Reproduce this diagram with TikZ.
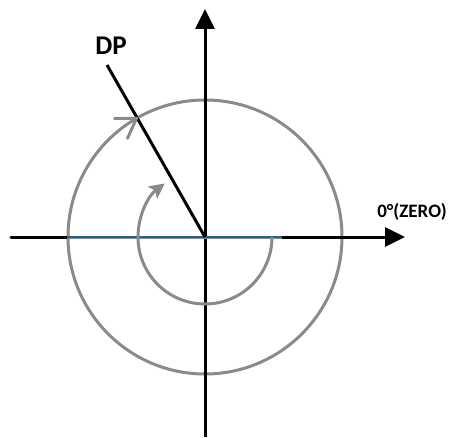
\documentclass[tikz,border=0pt]{standalone}
\usepackage{fontspec}
\setmainfont{Carlito}[BoldFont={Carlito Bold}]
\usetikzlibrary{arrows.meta,calc}
\definecolor{arcgray}{RGB}{138,138,138}
\definecolor{lineblue}{RGB}{30,100,140}
\tikzset{
  axis/.style={line width=3pt,black,-{Triangle[length=20pt,width=19pt]}},
  grayline/.style={line width=3pt,arcgray},
  lbl/.style={inner sep=0pt}
}
\begin{document}
\begin{tikzpicture}[x=1pt,y=1pt]
\useasboundingbox (0,0) rectangle (455,437);
\coordinate (O) at (205,200);
\coordinate (L) at (11,200);
\coordinate (R) at (405,200);
\coordinate (Bot) at (205,0);
\coordinate (Top) at (205,428);
\coordinate (DPend) at (107,372);
\coordinate (P) at ($(O)+(120:137)$);
% big circle
\draw[grayline] (O) circle[radius=137];
% axes
\draw[axis,line cap=round] (L) -- (R);
\draw[axis] (Bot) -- (Top);
% gray/blue overlay on horizontal axis
\coordinate (HL) at (67,200);
\coordinate (HR) at (282,200);
\draw[line width=3pt,arcgray] (HL) -- (HR);
\draw[line width=1.2pt,lineblue] (HL) -- (HR);
% small arc
\draw[grayline,-{Stealth[length=15pt,width=15pt,inset=3pt]}] ($(O)+(0:67)$) arc[start angle=0,end angle=-233,radius=67];
% DP line
\draw[line width=3pt,black] (O) -- (DPend);
% chevron on big circle
\draw[grayline,line cap=round,line join=miter] ($(P)+(-22,0)$) -- (P) -- ($(P)+(-9,-20)$);
% labels
\node[lbl,font=\fontsize{27}{30}\selectfont\bfseries] (dp) at (111,391) {DP};
\node[lbl,font=\fontsize{19}{22}\selectfont\bfseries] (zero) at (412,225) {0°(ZERO)};
\end{tikzpicture}
\end{document}
